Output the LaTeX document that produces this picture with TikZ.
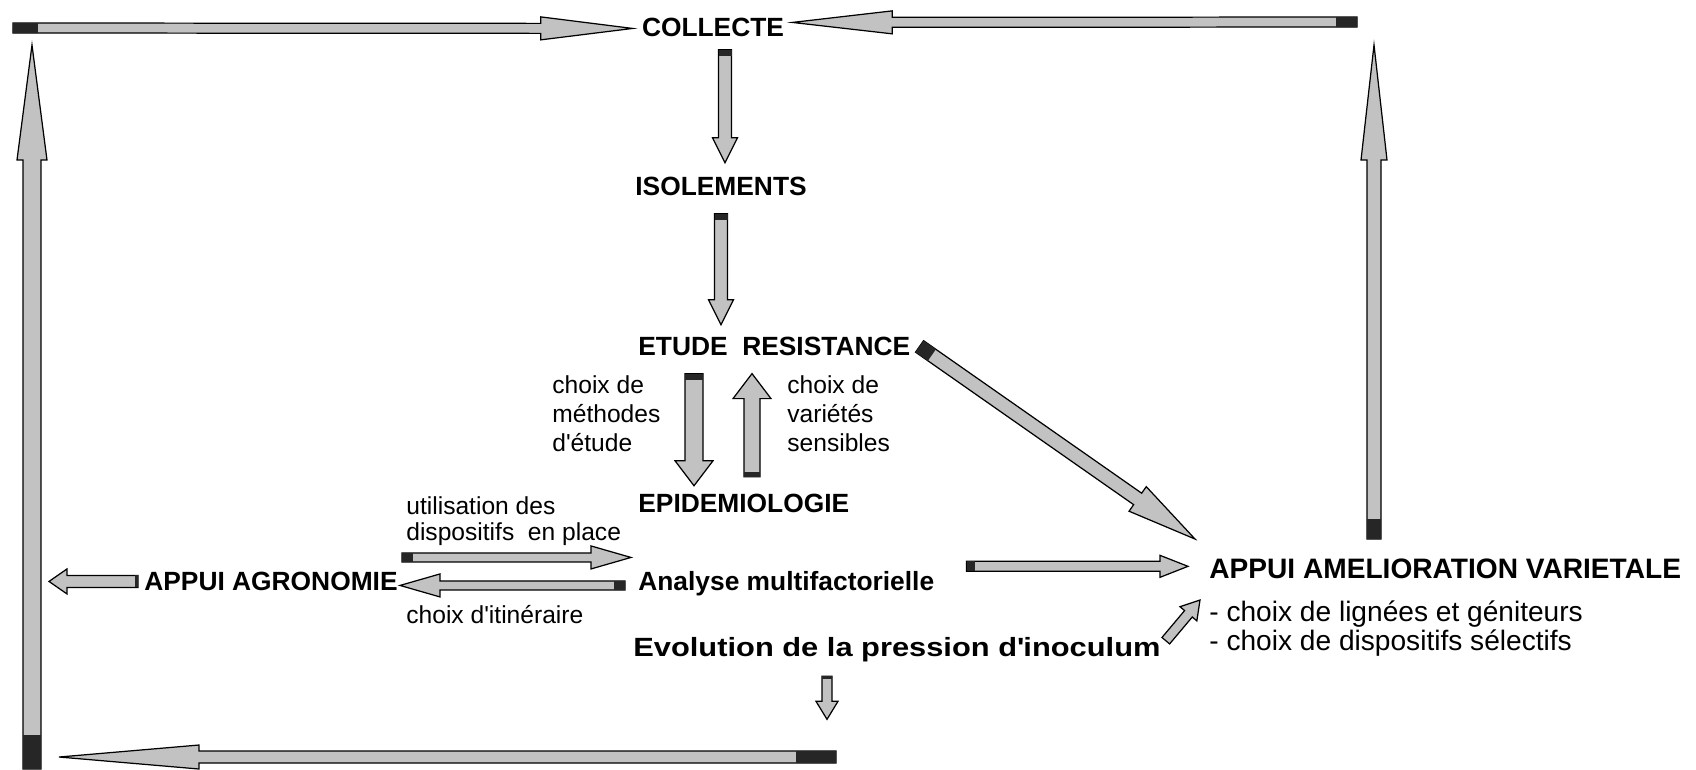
\documentclass[tikz,border=0pt]{standalone}
\usepackage{fontspec}
\setmainfont{Liberation Sans}
\usetikzlibrary{calc}
\definecolor{arrowgray}{gray}{0.76}
\def\blockarrow[#1](#2)(#3)(#4:#5:#6:#7){%
  \path (#2) coordinate (ba-a) (#3) coordinate (ba-b);
  \path ($(ba-b)!#6!(ba-a)$) coordinate (ba-h) ($(ba-a)!#7!(ba-b)$) coordinate (ba-t);
  \draw[#1] ($(ba-a)!#4!-90:(ba-b)$) -- ($(ba-h)!#4!90:(ba-a)$) -- ($(ba-h)!#5!90:(ba-a)$) -- (ba-b) -- ($(ba-h)!#5!-90:(ba-a)$) -- ($(ba-h)!#4!-90:(ba-a)$) -- ($(ba-a)!#4!90:(ba-b)$) -- cycle;
  \fill[black!85] ($(ba-a)!#4!-90:(ba-b)$) -- ($(ba-t)!#4!-90:(ba-b)$) -- ($(ba-t)!#4!90:(ba-b)$) -- ($(ba-a)!#4!90:(ba-b)$) -- cycle;}
\tikzset{
  blockfill/.style={draw=black, fill=arrowgray, line width=0.7pt, line join=miter},
  headword/.style={inner sep=0pt, font=\fontsize{15}{17}\selectfont\bfseries},
  sideword/.style={inner sep=0pt, align=left, font=\fontsize{14}{16.5}\selectfont},
  rightword/.style={inner sep=0pt, align=left, font=\fontsize{16}{17}\selectfont}
}

\begin{document}
\begin{tikzpicture}[x=0.02cm, y=-0.02cm]
			%%%%% START %%%%%
			\useasboundingbox (0,0) rectangle (1696,769);
			
			\node[headword, anchor=base] (collecte) at (713,36.5) {COLLECTE};
			\node[headword, anchor=base] (isol) at (721,195.5) {ISOLEMENTS};
			\node[headword, anchor=base west] (etude) at (638,355.5) {ETUDE\ \ RESISTANCE};
			\node[headword, anchor=base west] (epid) at (638,512.5) {EPIDEMIOLOGIE};
			\node[headword, anchor=base west] (analyse) at (638,590.5) {Analyse multifactorielle};
			\node[headword, anchor=base west] (evol) at (633,656.5) {\addfontfeature{FakeStretch=1.17}Evolution de la pression d\textquotesingle inoculum};
			\node[headword, anchor=base east] (agro) at (398,590.5) {APPUI AGRONOMIE};
			\node[headword, anchor=base west, font=\fontsize{16}{18}\selectfont\bfseries] (amelio) at (1209,578) {APPUI AMELIORATION VARIETALE};
			
			\node[sideword, anchor=north west] (methodes) at (552,375) {choix de\\méthodes\\d\textquotesingle étude};
			\node[sideword, anchor=north west] (varietes) at (787,375) {choix de\\variétés\\sensibles};
			\node[sideword, anchor=north west, font=\fontsize{14}{15}\selectfont] (utilisation) at (406,496) {utilisation des\\dispositifs\ \ en place};
			\node[sideword, anchor=base west] (itin) at (406,623) {choix d\textquotesingle itinéraire};
			\node[rightword, anchor=north west] (bullets) at (1209,600) {- choix de lignées et géniteurs\\- choix de dispositifs sélectifs};
			
			\coordinate (tl) at (13,28);
			\coordinate (tr) at (1357,22);
			\coordinate (lb) at (32,769);
			\coordinate (lt) at (32,45);
			\coordinate (rb) at (1374,539);
			\coordinate (rt) at (1374,45);
			\coordinate (bb) at (836,757);
			\coordinate (bt) at (59,757);
			
			% outer loop
			\blockarrow[blockfill](tl)($(collecte.west)+(-9,1)$)(1mm:2.3mm:18.4mm:5mm)
			\blockarrow[blockfill](tr)($(collecte.east)+(8,-5)$)(1mm:2.3mm:20mm:4.2mm)
			\blockarrow[blockfill](lb)(lt)(1.8mm:3mm:23mm:6.8mm)
			\blockarrow[blockfill](rb)(rt)(1.4mm:2.6mm:23mm:4mm)
			\blockarrow[blockfill](bb)(bt)(1.2mm:2.4mm:28mm:8mm)
			
			% middle column
			\blockarrow[blockfill]($(collecte.south)+(12,12.5)$)($(isol.north)+(4,-14)$)(1.3mm:2.5mm:5mm:1.2mm)
			\blockarrow[blockfill]($(isol.south)+(0,17.5)$)($(isol.south |- etude.north)+(0,-12)$)(1.3mm:2.5mm:5mm:1.2mm)
			\blockarrow[blockfill]($(etude.south west)+(56,17.5)$)($(etude.south west |- epid.north)+(56,-8)$)(1.8mm:3.8mm:5mm:1.2mm)
			\blockarrow[blockfill]($(etude.south west |- epid.north)+(114,-17)$)($(etude.south west)+(114,17.5)$)(1.6mm:3.8mm:5mm:1mm)
			
			% agronomie
			\blockarrow[blockfill]($(agro.east)+(4,-24)$)($(analyse.west |- agro.east)+(-7,-24)$)(0.9mm:2.3mm:8mm:2.2mm)
			\blockarrow[blockfill]($(analyse.west |- agro.east)+(-13,4)$)($(agro.east)+(2,4)$)(0.9mm:2.3mm:8mm:2.2mm)
			\blockarrow[blockfill]($(agro.west)+(-6,0)$)($(lt |- agro.west)+(17,0)$)(1.2mm:2.5mm:3.6mm:0.6mm)
			
			% amelioration
			\blockarrow[blockfill]($(analyse.east |- amelio.west)+(32,-2)$)($(amelio.west)+(-21,-2)$)(1mm:2.2mm:5.6mm:1.6mm)
			\blockarrow[blockfill]($(etude.east)+(9,0)$)($(amelio.north west)+(-14,-19)$)(1.4mm:3mm:14mm:3mm)
			\blockarrow[blockfill]($(evol.east)+(5,-9)$)($(bullets.north west)+(-9,0)$)(1mm:2.2mm:3.6mm:0mm)
			\blockarrow[blockfill]($(evol.south west)+(194,14)$)($(evol.south west)+(194,57)$)(1mm:2.2mm:3.6mm:0.6mm)
			
			%%%%% END %%%%%
\end{tikzpicture}
\end{document}
